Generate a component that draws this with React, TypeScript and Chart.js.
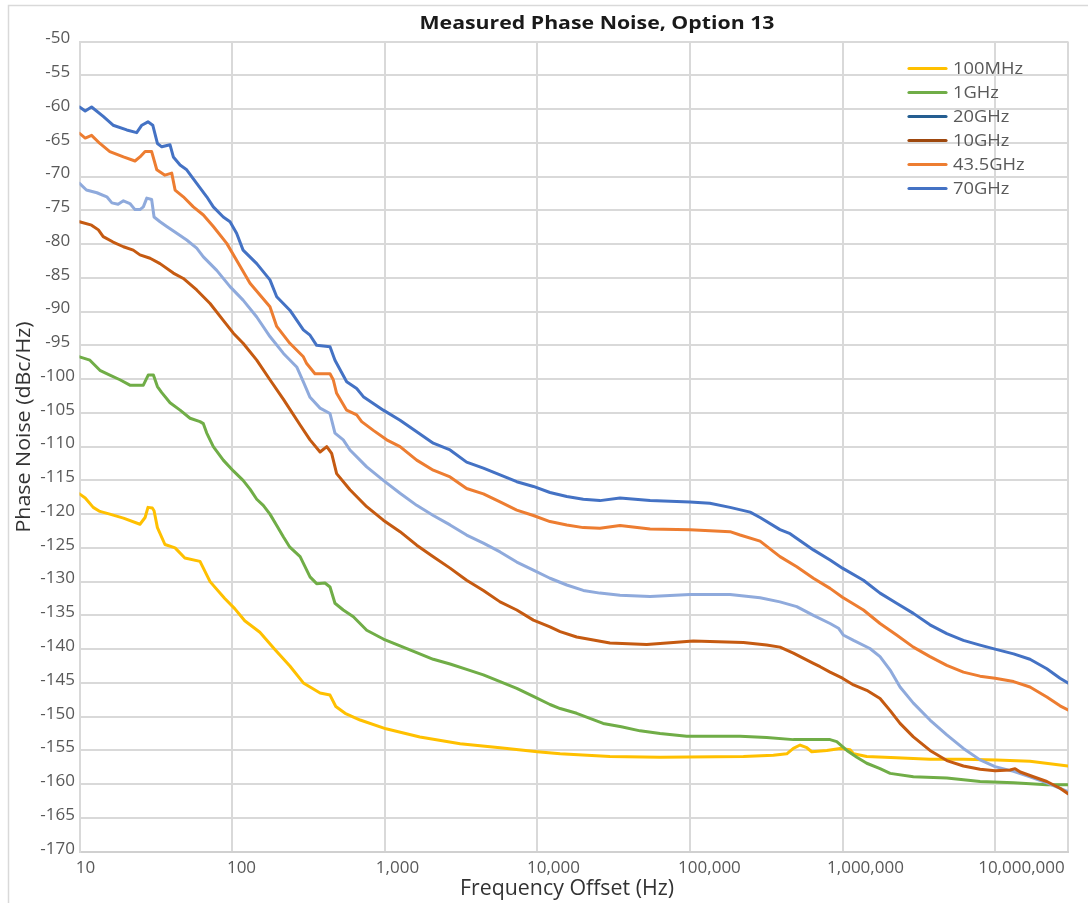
import { useEffect, useRef } from "react";
import { Chart, registerables } from "chart.js";

Chart.register(...registerables);

const CHART_TITLE = "Measured Phase Noise, Option 13";
const X_TITLE = "Frequency Offset (Hz)";
const Y_TITLE = "Phase Noise (dBc/Hz)";

const SERIES_NAMES = ["100MHz", "1GHz", "20GHz", "10GHz", "43.5GHz", "70GHz"];
const LINE_COLORS = ["#FFC000", "#70AD47", "#8FAADC", "#C55A11", "#ED7D31", "#4472C4"];
const LEGEND_COLORS = ["#FFC000", "#70AD47", "#255E91", "#9E480E", "#ED7D31", "#4472C4"];

const X_TICKS = [10, 100, 1000, 10000, 100000, 1000000, 10000000];
const X_MIN = 10;
const X_MAX = 30000000;
const Y_MIN = -170;
const Y_MAX = -50;
const Y_STEP = 5;

const F_100MHZ = [10, 10.9, 12.3, 13.6, 15.8, 19.4, 24.9, 26.9, 28.1, 30, 30.8, 32.4, 36.3, 42.3, 49, 61.6, 71.7, 89.5, 104, 121, 152, 190, 239, 293, 377, 438, 478, 550, 690, 1020, 1700, 3120, 5700, 10000, 14100, 29900, 63700, 224000, 352000, 431000, 476000, 527000, 583000, 628000, 788000, 964000, 1120000, 1180000, 1440000, 2260000, 3740000, 6190000, 10200000, 16900000, 30000000];
const PN_100MHZ = [-117.0, -117.6, -119.0, -119.6, -120.0, -120.6, -121.5, -120.5, -119.0, -119.1, -119.5, -122.0, -124.5, -125.0, -126.5, -127.0, -130.0, -132.5, -134.0, -135.8, -137.5, -140.0, -142.5, -145.0, -146.5, -146.8, -148.5, -149.5, -150.5, -151.8, -153.0, -154.0, -154.6, -155.2, -155.5, -155.9, -156.0, -155.9, -155.7, -155.5, -154.7, -154.2, -154.6, -155.2, -155.0, -154.7, -154.9, -155.5, -155.9, -156.1, -156.3, -156.3, -156.4, -156.6, -157.3];

const F_1GHZ = [10, 11.7, 13.6, 15.8, 18.4, 21.4, 26.2, 28.2, 30.5, 32.4, 34.6, 39.2, 45.6, 53, 61.6, 64.8, 68.2, 75.3, 87.5, 101.9, 118, 131, 145, 160, 177, 196, 217, 239, 279, 324, 358, 406, 438, 472, 535, 623, 762, 979, 1260, 1620, 2080, 2680, 3440, 4430, 5700, 7330, 9420, 12100, 14100, 18100, 27000, 35500, 47100, 63700, 95300, 135000, 213000, 318000, 476000, 713000, 828000, 916000, 1067000, 1240000, 1440000, 1760000, 2050000, 2910000, 4820000, 7960000, 13200000, 21800000, 30000000];
const PN_1GHZ = [-96.7, -97.2, -98.7, -99.4, -100.1, -100.9, -100.9, -99.4, -99.4, -101.1, -102.0, -103.5, -104.6, -105.8, -106.3, -106.6, -108.0, -110.0, -112.0, -113.6, -115.0, -116.3, -117.8, -118.7, -120.0, -121.7, -123.4, -124.9, -126.3, -129.3, -130.3, -130.2, -130.8, -133.2, -134.2, -135.2, -137.2, -138.5, -139.5, -140.5, -141.5, -142.2, -143.0, -143.8, -144.8, -145.8, -147.0, -148.2, -148.8, -149.5, -151.0, -151.5, -152.1, -152.5, -152.9, -152.9, -152.9, -153.1, -153.4, -153.4, -153.4, -153.7, -155.0, -156.0, -156.9, -157.7, -158.4, -158.9, -159.1, -159.6, -159.8, -160.1, -160.1];

const F_20GHZ = [10, 11.1, 13.0, 15.1, 16.3, 17.9, 19.4, 21.4, 23.1, 24.9, 26.2, 27.6, 29.7, 30.8, 33.7, 37.3, 43.4, 50.4, 58.6, 64.8, 79.3, 96.9, 118, 145, 177, 217, 265, 293, 324, 377, 438, 472, 535, 592, 762, 979, 1260, 1620, 2080, 2680, 3440, 4430, 5700, 7330, 9420, 12100, 15600, 20000, 25700, 34800, 54800, 100000, 183000, 288000, 389000, 501000, 644000, 828000, 940000, 1010000, 1180000, 1510000, 1760000, 2050000, 2380000, 2910000, 3740000, 4820000, 6190000, 7960000, 9980000, 13200000, 16900000, 21800000, 30000000];
const PN_20GHZ = [-71.0, -72.0, -72.4, -73.0, -73.9, -74.1, -73.6, -74.0, -74.9, -74.9, -74.5, -73.2, -73.4, -76.0, -76.7, -77.4, -78.4, -79.4, -80.6, -81.9, -83.9, -86.3, -88.3, -90.8, -93.7, -96.2, -98.2, -100.4, -102.7, -104.3, -105.1, -108.0, -109.0, -110.5, -113.0, -115.0, -116.9, -118.7, -120.2, -121.6, -123.1, -124.3, -125.6, -127.1, -128.3, -129.5, -130.5, -131.3, -131.7, -132.0, -132.2, -131.9, -131.9, -132.4, -133.0, -133.7, -135.0, -136.2, -136.9, -137.9, -138.7, -139.9, -141.1, -143.1, -145.6, -148.0, -150.5, -152.7, -154.7, -156.4, -157.4, -158.1, -158.9, -159.8, -161.1];

const F_10GHZ = [10, 12.0, 13.3, 14.3, 16.6, 19.4, 22.5, 24.9, 29.0, 33.7, 41.2, 47.9, 58.6, 71.7, 87.5, 101.9, 118, 145, 177, 217, 279, 324, 377, 417, 449, 484, 592, 762, 979, 1260, 1620, 2080, 2680, 3440, 4430, 5700, 7330, 9420, 12100, 14100, 18100, 29900, 52100, 70500, 105000, 224000, 318000, 389000, 476000, 644000, 713000, 828000, 998000, 1180000, 1440000, 1760000, 2050000, 2380000, 2910000, 3740000, 4820000, 6190000, 7960000, 9980000, 12500000, 13500000, 14600000, 17800000, 21800000, 26600000, 30000000];
const PN_10GHZ = [-76.7, -77.2, -77.9, -78.9, -79.7, -80.4, -80.9, -81.6, -82.1, -82.9, -84.3, -85.1, -86.8, -88.8, -91.3, -93.2, -94.7, -97.2, -100.1, -103.0, -106.8, -109.0, -110.8, -110.0, -111.0, -114.0, -116.4, -118.9, -120.9, -122.6, -124.6, -126.3, -128.0, -129.8, -131.3, -133.0, -134.2, -135.7, -136.7, -137.4, -138.2, -139.1, -139.3, -139.1, -138.8, -139.0, -139.4, -139.7, -140.6, -142.1, -142.6, -143.4, -144.3, -145.3, -146.1, -147.3, -149.1, -151.0, -153.0, -155.0, -156.5, -157.3, -157.8, -158.0, -157.9, -157.7, -158.2, -158.9, -159.6, -160.6, -161.4];

const F_43GHZ = [10, 10.9, 12.0, 13.6, 15.8, 19.4, 23.1, 24.9, 26.9, 29.7, 32.1, 36.3, 40.2, 42.3, 47.9, 55.7, 64.8, 75.3, 92.2, 107, 131, 177, 196, 239, 293, 308, 349, 438, 460, 484, 563, 655, 706, 842, 1030, 1260, 1620, 2080, 2680, 3440, 4430, 5700, 7330, 9420, 12100, 15600, 20000, 25700, 34800, 54800, 100000, 183000, 213000, 288000, 389000, 501000, 644000, 828000, 998000, 1370000, 1760000, 2260000, 2910000, 3740000, 4820000, 6190000, 7960000, 9980000, 13200000, 16900000, 21800000, 26600000, 30000000];
const PN_43GHZ = [-63.6, -64.3, -63.9, -65.1, -66.3, -67.1, -67.7, -67.1, -66.3, -66.3, -69.0, -69.8, -69.5, -72.0, -73.0, -74.5, -75.7, -77.4, -79.9, -82.4, -85.8, -89.3, -92.2, -94.7, -96.7, -97.7, -99.2, -99.2, -100.1, -102.1, -104.6, -105.3, -106.3, -107.6, -109.0, -110.0, -112.0, -113.5, -114.5, -116.2, -117.0, -118.2, -119.4, -120.2, -121.1, -121.6, -122.0, -122.1, -121.7, -122.2, -122.3, -122.6, -123.1, -124.0, -126.3, -127.8, -129.5, -131.0, -132.3, -134.2, -136.2, -137.9, -139.7, -141.1, -142.4, -143.4, -144.0, -144.3, -144.8, -145.6, -147.1, -148.4, -149.0];

const F_70GHZ = [10, 10.9, 12.0, 14.3, 16.6, 20.4, 23.7, 25.6, 28.1, 30.2, 32.4, 34.6, 39.2, 41.2, 45.6, 50.4, 58.6, 68.2, 75.3, 87.5, 96.9, 107, 118, 145, 177, 196, 239, 293, 324, 358, 438, 472, 563, 655, 724, 979, 1260, 1620, 2080, 2680, 3440, 4430, 5700, 7330, 9420, 12100, 15600, 20000, 25700, 34800, 54800, 100000, 135000, 183000, 248000, 288000, 389000, 453000, 644000, 828000, 998000, 1370000, 1760000, 2260000, 2910000, 3740000, 4820000, 6190000, 7960000, 9980000, 13200000, 16900000, 21800000, 26600000, 30000000];
const PN_70GHZ = [-59.7, -60.3, -59.7, -61.1, -62.4, -63.1, -63.5, -62.4, -61.9, -62.4, -65.1, -65.6, -65.3, -67.1, -68.3, -69.0, -71.0, -73.0, -74.5, -76.0, -76.7, -78.4, -80.9, -82.9, -85.3, -87.8, -89.8, -92.7, -93.5, -95.0, -95.2, -97.2, -100.4, -101.4, -102.6, -104.6, -106.1, -107.8, -109.5, -110.5, -112.3, -113.2, -114.2, -115.2, -115.9, -116.8, -117.4, -117.8, -118.0, -117.6, -118.0, -118.2, -118.4, -119.0, -119.7, -120.5, -122.3, -122.9, -125.3, -126.8, -128.0, -129.8, -131.7, -133.2, -134.7, -136.4, -137.7, -138.7, -139.4, -140.0, -140.7, -141.5, -142.9, -144.3, -145.0];

const SERIES_FREQS = [F_100MHZ, F_1GHZ, F_20GHZ, F_10GHZ, F_43GHZ, F_70GHZ];
const SERIES_VALUES = [PN_100MHZ, PN_1GHZ, PN_20GHZ, PN_10GHZ, PN_43GHZ, PN_70GHZ];

const FONT = '"Open Sans", "Noto Sans", sans-serif';

function drawStretched(ctx: CanvasRenderingContext2D, text: string, font: string, color: string, x: number, y: number, targetW: number | null, align: CanvasTextAlign, sxFixed?: number) {
  ctx.save();
  ctx.font = font;
  ctx.fillStyle = color;
  ctx.textBaseline = "alphabetic";
  const w = ctx.measureText(text).width;
  const sx = sxFixed !== undefined ? sxFixed : targetW ? targetW / w : 1;
  ctx.translate(x, y);
  ctx.scale(sx, 1);
  ctx.textAlign = align;
  ctx.fillText(text, 0, 0);
  ctx.restore();
}

const overlayPlugin = {
  id: "overlayPlugin",
  afterDraw(chart: any) {
    const ctx: CanvasRenderingContext2D = chart.ctx;
    ctx.save();
    // outer frame
    ctx.strokeStyle = "#d9d9d9";
    ctx.lineWidth = 1.5;
    ctx.beginPath();
    ctx.moveTo(8.5, 910);
    ctx.lineTo(8.5, 5.5);
    ctx.lineTo(1090, 5.5);
    ctx.stroke();

    // title
    drawStretched(ctx, CHART_TITLE, `bold 18.5px ${FONT}`, "#1a1a1a", 597, 28.5, 355, "center");
    // x axis title
    drawStretched(ctx, X_TITLE, `21px ${FONT}`, "#333333", 567, 894.5, 214, "center");
    // y axis title
    ctx.save();
    ctx.translate(29.5, 427);
    ctx.rotate(-Math.PI / 2);
    drawStretched(ctx, Y_TITLE, `20px ${FONT}`, "#333333", 0, 0, 211, "center");
    ctx.restore();

    // legend
    ctx.font = `15.5px ${FONT}`;
    const refW = ctx.measureText(SERIES_NAMES[0]).width;
    const sx = 70 / refW;
    SERIES_NAMES.forEach((name, i) => {
      const y = 68.5 + 24 * i;
      ctx.strokeStyle = LEGEND_COLORS[i];
      ctx.lineWidth = 3.2;
      ctx.lineCap = "round";
      ctx.beginPath();
      ctx.moveTo(909, y);
      ctx.lineTo(946, y);
      ctx.stroke();
      drawStretched(ctx, name, `15.5px ${FONT}`, "#595959", 953, y + 5.5, null, "left", sx);
    });
    ctx.restore();
  },
};

export default function App() {
  const canvasRef = useRef<HTMLCanvasElement | null>(null);

  useEffect(() => {
    if (!canvasRef.current) return;
    const datasets = SERIES_NAMES.map((name, i) => ({
      label: name,
      data: SERIES_FREQS[i].map((f, j) => ({ x: f, y: SERIES_VALUES[i][j] })),
      borderColor: LINE_COLORS[i],
      backgroundColor: LINE_COLORS[i],
      borderWidth: 3,
      pointRadius: 0,
      pointHoverRadius: 0,
      tension: 0,
      fill: false,
      borderJoinStyle: "round" as const,
      borderCapStyle: "round" as const,
      order: SERIES_NAMES.length - i,
      xAxisID: "x",
      yAxisID: "y",
    }));

    const chart = new Chart(canvasRef.current, {
      type: "line",
      data: { datasets },
      options: {
        animation: false,
        responsive: false,
        devicePixelRatio: 1,
        layout: { padding: { left: 0, top: 41.5, right: 20, bottom: 0 } },
        plugins: {
          legend: { display: false },
          tooltip: { enabled: false },
          title: { display: false },
        },
        scales: {
          x: {
            type: "logarithmic",
            position: "bottom",
            min: X_MIN,
            max: X_MAX,
            weight: 0,
            afterBuildTicks: (s: any) => {
              s.ticks = [...X_TICKS, X_MAX].map((v) => ({ value: v }));
            },
            afterFit: (s: any) => {
              s.height = 0;
            },
            ticks: { display: false },
            grid: { color: "#d9d9d9", lineWidth: 2, drawTicks: false },
            border: { display: true, color: "#d0d0d0", width: 2 },
          },
          x2: {
            type: "logarithmic",
            position: "bottom",
            min: 9.153,
            max: 19880000,
            weight: 1,
            afterBuildTicks: (s: any) => {
              s.ticks = X_TICKS.map((v) => ({ value: v }));
            },
            afterFit: (s: any) => {
              s.height = 51.3;
            },
            grid: { display: false, drawTicks: false },
            border: { display: false },
            ticks: {
              autoSkip: false,
              maxRotation: 0,
              minRotation: 0,
              padding: 6,
              color: "#595959",
              font: { family: FONT, size: 17 },
              callback: (v: any) => Number(v).toLocaleString("en-US"),
            },
          },
          y: {
            type: "linear",
            min: Y_MIN,
            max: Y_MAX,
            afterFit: (s: any) => {
              s.width = 79.5;
            },
            ticks: {
              stepSize: Y_STEP,
              autoSkip: false,
              color: "#595959",
              font: { family: FONT, size: 17 },
              crossAlign: "center",
              padding: 4.5,
              labelOffset: -3,
            },
            grid: { color: "#d9d9d9", lineWidth: 2, drawTicks: false },
            border: { display: true, color: "#d9d9d9", width: 2 },
          },
        },
      } as any,
      plugins: [overlayPlugin],
    });
    return () => chart.destroy();
  }, []);

  return (
    <div style={{ position: "absolute", left: 0, top: 0, width: 1088, height: 903, background: "#ffffff", overflow: "hidden" }}>
      <canvas ref={canvasRef} width={1088} height={903} style={{ display: "block", width: 1088, height: 903 }} />
    </div>
  );
}
